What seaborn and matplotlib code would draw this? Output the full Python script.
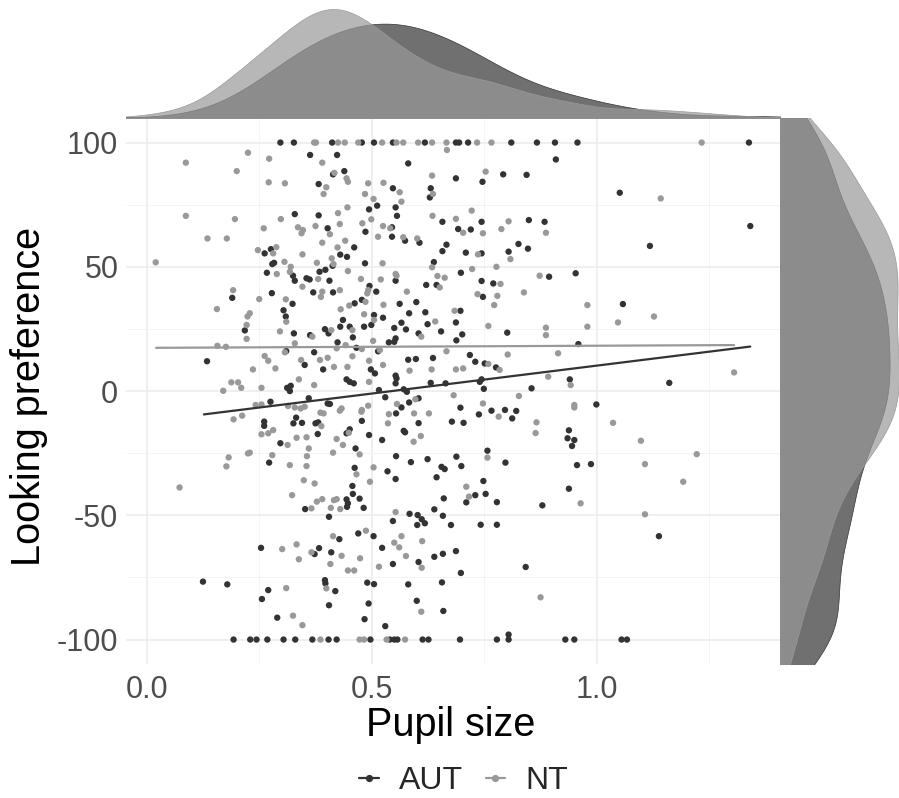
# -*- coding: utf-8 -*-
"""
Pupil size vs looking preference, AUT vs NT, with marginal densities
"""

import pandas as pd
import matplotlib
matplotlib.use("Agg")
from matplotlib import pyplot as plt
from matplotlib.lines import Line2D
from matplotlib.ticker import MultipleLocator
import seaborn as sns

# Points sitting exactly on the ceiling (100) / floor (-100)
aut_ceiling_x = [0.297, 0.327, 0.412, 0.478, 0.505, 0.547, 0.618, 0.687, 0.694, 0.714,
                 0.810, 0.867, 0.907, 0.957, 1.338]
nt_ceiling_x = [0.372, 0.376, 0.425, 0.440, 0.470, 0.523, 0.555, 0.570, 0.603, 0.634,
                0.666, 0.734, 0.766, 1.233]
aut_floor_x = [0.193, 0.230, 0.244, 0.268, 0.304, 0.330, 0.368, 0.404, 0.422, 0.497,
               0.540, 0.550, 0.557, 0.613, 0.626, 0.696, 0.778, 0.804, 0.930, 0.950,
               1.055, 1.067]
nt_floor_x = [0.386, 0.473, 0.483, 0.533, 0.574]

# (pupil size, looking preference) for the remaining AUT points
aut_points = [
    (0.363, 95), (0.423, 95), (0.581, 91.6), (0.439, 88.5), (0.414, 87.2), (0.382, 83.3),
    (0.547, 81.6), (0.631, 81.6), (0.629, 77.9), (0.512, 74.6), (0.494, 73.1), (0.553, 73.9),
    (0.556, 70.5), (0.329, 71.2), (0.382, 70.7), (0.402, 65.5), (0.486, 64.1), (0.545, 65.9),
    (0.545, 62.1), (0.574, 60.5), (0.606, 59.7), (0.657, 68.1), (0.666, 58.9), (0.657, 56.3),
    (0.692, 65.2), (0.687, 85.6), (0.461, 57.8), (0.262, 55.4), (0.276, 57.1), (0.279, 51.1),
    (0.283, 51.6), (0.267, 47.6), (0.325, 46.4), (0.329, 44.4), (0.355, 45.4), (0.362, 44.9),
    (0.384, 48), (0.397, 48.8), (0.413, 50.4), (0.43, 54.9), (0.445, 54), (0.485, 51.4),
    (0.406, 44.4), (0.37, 39.7), (0.414, 39.7), (0.495, 42.3), (0.51, 40), (0.553, 44.4),
    (0.621, 42.7), (0.644, 42.7), (0.638, 51.9), (0.19, 37.5), (0.278, 39.4), (0.324, 35.1),
    (0.218, 24.4), (0.304, 32.5), (0.309, 30), (0.327, 23.2), (0.363, 22.5), (0.396, 24.9),
    (0.404, 23.2), (0.436, 28.6), (0.43, 25.9), (0.462, 35.3), (0.478, 36.7), (0.451, 25.9),
    (0.458, 21.6), (0.483, 25.9), (0.499, 26.6), (0.505, 30.6), (0.525, 29.5), (0.562, 35.1),
    (0.583, 31.3), (0.599, 35.8), (0.619, 31.7), (0.624, 26.9), (0.654, 24), (0.687, 27.6),
    (0.688, 20.4), (0.55, 25.4), (0.576, 24.8), (0.566, 27.5), (0.604, 23.2), (0.553, 21.2),
    (0.55, 19.8), (0.538, 19.6), (0.514, 16), (0.424, 19.6), (0.466, 17.4), (0.134, 12),
    (0.31, 16.1), (0.351, 10.5), (0.372, 15.6), (0.392, 8.7), (0.498, 8.7), (0.507, 7.1),
    (0.553, 6.2), (0.555, 5.1), (0.581, 12.6), (0.598, 12.9), (0.636, 13.3), (0.312, 1.3),
    (0.32, 2.1), (0.318, 0), (0.444, 4.7), (0.451, 3.7), (0.46, 3.1), (0.516, 0.4),
    (0.553, 3.1), (0.571, 0.7), (0.578, -0.3), (0.631, 3.3), (0.664, 3.1),
    (0.909, 93.2), (0.746, 84.2), (0.792, 87.2), (0.844, 87), (1.051, 79.8), (0.72, 65),
    (0.744, 68.1), (0.849, 68.8), (0.884, 68.1), (1.341, 66.4), (1.118, 58.4), (0.709, 55.7),
    (0.744, 55.4), (0.804, 56.1), (0.826, 59.2), (0.847, 57.3), (0.698, 47.6), (0.744, 44.3),
    (0.77, 43.3), (0.747, 37.9), (0.894, 46), (0.953, 47.4), (1.058, 35), (0.697, 32.3),
    (0.701, 22.8), (0.801, 23.5), (0.959, 18.9), (0.718, 14.5), (0.73, 11.8), (0.751, 11.1),
    (0.776, 9.5), (0.74, 3.7), (0.744, 4.7), (0.749, 0.9), (0.855, 1.1), (0.94, 4.7),
    (1.161, 3.3),
    (0.125, -76.7), (0.179, -77.8), (0.275, -4.3), (0.261, -12.3), (0.261, -14), (0.272, -28.8),
    (0.297, -21), (0.254, -63.1), (0.27, -80.1), (0.256, -83.7), (0.29, -91.2), (0.373, -65.6),
    (0.383, -63.2), (0.326, -13), (0.332, -10.7), (0.345, -12.8), (0.375, -13), (0.381, -12.6),
    (0.38, -17.3), (0.36, -2.9), (0.402, -5), (0.407, -5.2), (0.444, -17), (0.451, -15.4),
    (0.405, -50.6), (0.352, -47.5), (0.444, -43.6), (0.447, -45.2), (0.445, -46.6), (0.457, -38.2),
    (0.458, -41.4), (0.473, -43.3), (0.482, -47), (0.462, -30.9), (0.464, -23.1), (0.478, -12),
    (0.494, -17.7), (0.428, -59.6), (0.41, -64.9), (0.396, -76.1), (0.397, -77.4), (0.419, -80.5),
    (0.405, -86.2), (0.47, -57.3), (0.504, -58.4), (0.49, -77.1), (0.505, -77.7), (0.493, -85.5),
    (0.484, -91.8), (0.53, -94.6), (0.523, -63.1), (0.547, -69.6), (0.581, -77.8), (0.6, -84.4),
    (0.604, -68.8), (0.639, -66.7), (0.547, -52.3), (0.584, -49.4), (0.602, -49.9), (0.601, -53.9),
    (0.611, -51.6), (0.618, -53.2), (0.639, -47.6), (0.644, -34.7), (0.624, -27.4), (0.587, -28.6),
    (0.553, -35.4), (0.535, -32.3), (0.554, -26.2), (0.523, -19.7), (0.554, -9), (0.566, -6.6),
    (0.583, -4.6), (0.604, -2.9), (0.604, -12.9), (0.574, -16.6), (0.571, -16), (0.53, -2.5),
    (0.697, -6.7), (0.678, -12.3), (0.704, -12.8), (0.738, -9.4), (0.766, -7.9), (0.796, -7.6),
    (0.812, -11), (0.821, -8), (0.999, -5.4), (0.938, -15.8), (0.935, -19), (0.95, -19.7),
    (0.945, -22.1), (1.138, -58.4), (0.688, -26.4), (0.757, -24), (0.797, -28.8), (0.699, -30.2),
    (0.655, -30.5), (0.662, -31.4), (0.956, -29.8), (0.987, -29.4), (0.938, -39.3), (0.879, -46),
    (0.748, -36.2), (0.71, -44.8), (0.73, -41.9), (0.753, -41.4), (0.778, -44.7), (0.66, -43.2),
    (0.658, -50.2), (0.676, -53.9), (0.742, -53.8), (0.778, -53.8), (0.658, -65.5), (0.687, -64.4),
    (0.698, -73.2), (0.842, -70.8), (0.656, -77), (0.659, -88.5), (0.804, -98),
]

# (pupil size, looking preference) for the remaining NT points
nt_points = [
    (0.225, 95.9), (0.087, 91.9), (0.2, 88.5), (0.272, 93.5), (0.39, 91.9), (0.417, 87.8),
    (0.444, 85.6), (0.447, 84.2), (0.271, 84), (0.307, 83.6), (0.399, 82), (0.393, 79.3),
    (0.492, 83.6), (0.526, 83.8), (0.562, 80), (0.485, 79.3), (0.504, 77.3), (0.566, 76.2),
    (0.634, 86.7), (0.636, 79.3), (0.446, 73.9), (0.087, 70.5), (0.196, 69.2), (0.425, 71.6),
    (0.298, 69.2), (0.26, 65.5), (0.135, 61.4), (0.178, 61.4), (0.336, 65.9), (0.344, 63.5),
    (0.347, 64.8), (0.375, 66.4), (0.407, 63.1), (0.429, 67.2), (0.479, 67.5), (0.499, 69.1),
    (0.525, 66.4), (0.541, 65.5), (0.514, 62.1), (0.57, 61.9), (0.601, 61.4), (0.635, 70.5),
    (0.687, 69.3), (0.39, 59.7), (0.441, 60.5), (0.424, 57.8), (0.247, 56.7), (0.288, 57.9),
    (0.281, 55.4), (0.346, 55), (0.02, 51.8), (0.289, 47.1), (0.306, 52), (0.32, 50),
    (0.318, 48), (0.346, 42), (0.381, 45.1), (0.415, 51.1), (0.378, 51.6), (0.411, 53.4),
    (0.447, 48.3), (0.524, 51.4), (0.39, 40), (0.387, 37.9), (0.429, 40.6), (0.476, 45.1),
    (0.492, 40.6), (0.49, 39.3), (0.52, 44.9), (0.553, 47.1), (0.555, 46.4), (0.578, 40),
    (0.651, 41.7), (0.646, 46.3), (0.662, 45.6), (0.634, 49.8), (0.192, 40.6), (0.25, 37),
    (0.309, 36.9), (0.156, 33), (0.224, 30), (0.229, 31.3), (0.222, 26.6), (0.222, 21),
    (0.31, 27.9), (0.296, 24), (0.329, 19.2), (0.368, 21.9), (0.41, 24.5), (0.431, 32.9),
    (0.45, 34.4), (0.486, 35.9), (0.457, 24.5), (0.483, 30.9), (0.505, 28.6), (0.526, 34.7),
    (0.641, 28), (0.684, 32.3), (0.61, 21.9), (0.503, 20.2), (0.518, 16.5), (0.422, 17.2),
    (0.442, 18.5), (0.478, 16.9), (0.157, 18.2), (0.176, 17.8), (0.262, 14.1), (0.27, 12.2),
    (0.286, 9.1), (0.307, 15.6), (0.343, 12.5), (0.385, 12.5), (0.402, 13.4), (0.416, 9.7),
    (0.446, 9.7), (0.457, 14), (0.494, 12.2), (0.525, 10.5), (0.584, 8.2), (0.633, 8.7),
    (0.666, 16), (0.687, 8.7), (0.236, 8.7), (0.188, 3.5), (0.203, 3.5), (0.21, 1.3),
    (0.17, 0.1), (0.255, 1.3), (0.338, 4.7), (0.372, 2.4), (0.494, 3.7),
    (0.667, 97), (0.753, 88.3), (1.142, 77.5), (0.722, 72.6), (0.703, 63.7), (0.747, 63.5),
    (0.788, 65.2), (0.804, 68.3), (0.887, 63.7), (0.736, 55), (0.808, 53.1), (0.777, 50),
    (0.723, 49.1), (0.786, 43.1), (0.735, 39), (0.779, 38.3), (0.772, 34.6), (0.838, 39.7),
    (0.873, 46.4), (0.979, 34.6), (1.127, 30), (1.047, 27.6), (0.759, 26.2), (0.887, 25.5),
    (0.887, 22.5), (0.979, 25.9), (0.759, 10.9), (0.784, 8.5), (0.802, 14.7), (0.914, 15.2),
    (0.703, 9.1), (0.892, 5.8), (0.942, 2.4), (0.827, -2), (0.682, -1.7), (1.305, 7.5),
    (0.073, -38.8), (0.182, -26.7), (0.177, -30.3), (0.193, -11.4), (0.212, -9.9), (0.229, -24.8),
    (0.225, -25.1), (0.242, -5.6), (0.255, -5.4), (0.255, -17.4), (0.27, -17), (0.281, -15.7),
    (0.279, -25.8), (0.313, -21.7), (0.301, -63.6), (0.31, -79.3), (0.325, -90.4), (0.346, -94.2),
    (0.318, -29.8), (0.323, -41.9), (0.355, -30.2), (0.349, -35.9), (0.373, -37.2), (0.333, -61.7),
    (0.338, -67.7), (0.366, -64.9), (0.388, -14.1), (0.333, -18.8), (0.355, -18.6), (0.36, -23.1),
    (0.356, -26.2), (0.314, -6), (0.329, -6.6), (0.342, -7), (0.351, -6.3), (0.386, -8.7),
    (0.393, -9), (0.429, -7.9), (0.433, -7), (0.422, -19.3), (0.414, -24.8), (0.436, -21.7),
    (0.449, -16.8), (0.409, -47), (0.416, -43.9), (0.422, -43.5), (0.43, -47.5), (0.378, -44.5),
    (0.39, -43.5), (0.366, -47.2), (0.466, -33.5), (0.473, -25.5), (0.492, -5.9), (0.478, -7.6),
    (0.477, -8.3), (0.496, -36.5), (0.504, -30.7), (0.414, -58.4), (0.408, -69.6), (0.399, -79.4),
    (0.433, -66.3), (0.447, -72.2), (0.461, -72.2), (0.487, -56.2), (0.474, -67.3), (0.516, -70.7),
    (0.55, -61), (0.561, -62.9), (0.566, -58.4), (0.576, -66.4), (0.61, -88.8), (0.611, -71.1),
    (0.612, -60.4), (0.553, -48.7), (0.536, -13), (0.538, -9.3), (0.556, -5.2), (0.594, -9),
    (0.597, -3.3), (0.593, -20.4), (0.609, -18.1), (0.627, -9),
    (0.747, -5), (0.782, -10.3), (0.866, -12.6), (0.864, -16.9), (0.95, -5.6), (0.95, -6.6),
    (1.036, -12.8), (1.098, -20), (1.107, -29.4), (1.222, -25.4), (1.192, -36.5), (1.107, -49.6),
    (0.757, -26.8), (0.964, -45.2), (0.71, -38.5), (0.716, -42.5), (0.875, -83),
]

# Fitted linear trend per group (end points)
aut_fit_x = [0.127, 1.341]
aut_fit_y = [-9.4, 17.9]
nt_fit_x = [0.021, 1.305]
nt_fit_y = [17.4, 18.5]

groups = ["AUT", "NT"]
colors = {"AUT": "#333333", "NT": "#999999"}
bw = {"AUT": 1.3, "NT": 0.85}


def build_frame(group, points, ceiling_x, floor_x):
    xs = [p[0] for p in points] + ceiling_x + floor_x
    ys = [p[1] for p in points] + [100] * len(ceiling_x) + [-100] * len(floor_x)
    return pd.DataFrame({"pupil": xs, "pref": ys, "group": group})


df = pd.concat([build_frame("AUT", aut_points, aut_ceiling_x, aut_floor_x),
                build_frame("NT", nt_points, nt_ceiling_x, nt_floor_x)],
               ignore_index=True)
fits = pd.concat([pd.DataFrame({"pupil": aut_fit_x, "pref": aut_fit_y, "group": "AUT"}),
                  pd.DataFrame({"pupil": nt_fit_x, "pref": nt_fit_y, "group": "NT"})],
                 ignore_index=True)

sns.set_style("white")
plt.rcParams['font.family'] = ['Liberation Sans', 'DejaVu Sans']
plt.rcParams['axes.unicode_minus'] = False

W, H = 899, 798
fig = plt.figure(figsize=(W / 100, H / 100), dpi=100)
p_left, p_right, p_top, p_bottom = 126, 780, 117.7, 664.4
ax = fig.add_axes([p_left / W, 1 - p_bottom / H, (p_right - p_left) / W, (p_bottom - p_top) / H])
ax_top = fig.add_axes([p_left / W, 1 - p_top / H, (p_right - p_left) / W, p_top / H])
ax_right = fig.add_axes([p_right / W, 1 - p_bottom / H, (W - p_right) / W, (p_bottom - p_top) / H])

# Main scatter
sns.scatterplot(data=df, x="pupil", y="pref", hue="group", hue_order=groups, palette=colors,
                s=21, linewidth=0, alpha=1, legend=False, ax=ax, zorder=3)
sns.lineplot(data=fits, x="pupil", y="pref", hue="group", hue_order=groups, palette=colors,
             linewidth=1.6, legend=False, ax=ax, zorder=4)

xlim = (-0.046, 1.407)
ylim = (-110, 110)
ax.set_xlim(xlim)
ax.set_ylim(ylim)
ax.xaxis.set_major_locator(MultipleLocator(0.5))
ax.xaxis.set_minor_locator(MultipleLocator(0.25))
ax.yaxis.set_major_locator(MultipleLocator(50))
ax.yaxis.set_minor_locator(MultipleLocator(25))
ax.set_xticks([0.0, 0.5, 1.0])
ax.set_xticklabels(["0.0", "0.5", "1.0"])
ax.grid(which="major", color="#ebebeb", linewidth=1.1)
ax.grid(which="minor", color="#f3f3f3", linewidth=0.6)
ax.set_axisbelow(True)
for s in ax.spines.values():
    s.set_visible(False)
ax.tick_params(axis="both", which="both", length=0, labelsize=22, labelcolor="#4d4d4d")
ax.tick_params(axis="x", pad=7.6)
ax.tick_params(axis="y", pad=5.5)
ax.set_xlabel("Pupil size", fontsize=28.5, color="black")
ax.set_ylabel("Looking preference", fontsize=28.5, color="black")
ax.xaxis.set_label_coords(0.497, -0.076)
ax.yaxis.set_label_coords(-0.119, 0.49)

# Marginal densities (AUT underneath, NT on top)
for g in groups:
    sub = df[df.group == g]
    sns.kdeplot(x=sub["pupil"], fill=True, color=colors[g], alpha=0.7, linewidth=0.5,
                bw_method="silverman", bw_adjust=bw[g], cut=3, ax=ax_top)
    sns.kdeplot(y=sub["pref"], fill=True, color=colors[g], alpha=0.7, linewidth=0.5,
                bw_method="silverman", bw_adjust=0.85, cut=3, ax=ax_right)

ax_top.set_xlim(xlim)
ax_top.set_ylim(0, ax_top.dataLim.y1 * p_top / (p_top - 9))
ax_right.set_ylim(ylim)
ax_right.set_xlim(0, ax_right.dataLim.x1 * 1.0)
for a in (ax_top, ax_right):
    a.set_axis_off()

# Legend
handles = [Line2D([0], [0], color=colors[g], linewidth=1.6, marker="o", markersize=4.2)
           for g in groups]
fig.legend(handles, groups, loc="center", bbox_to_anchor=(464 / W, 1 - 781 / H), ncol=2,
           frameon=False, fontsize=23, handlelength=0.6, handletextpad=0.65,
           columnspacing=0.7)

fig.savefig("out.png", dpi=100)
